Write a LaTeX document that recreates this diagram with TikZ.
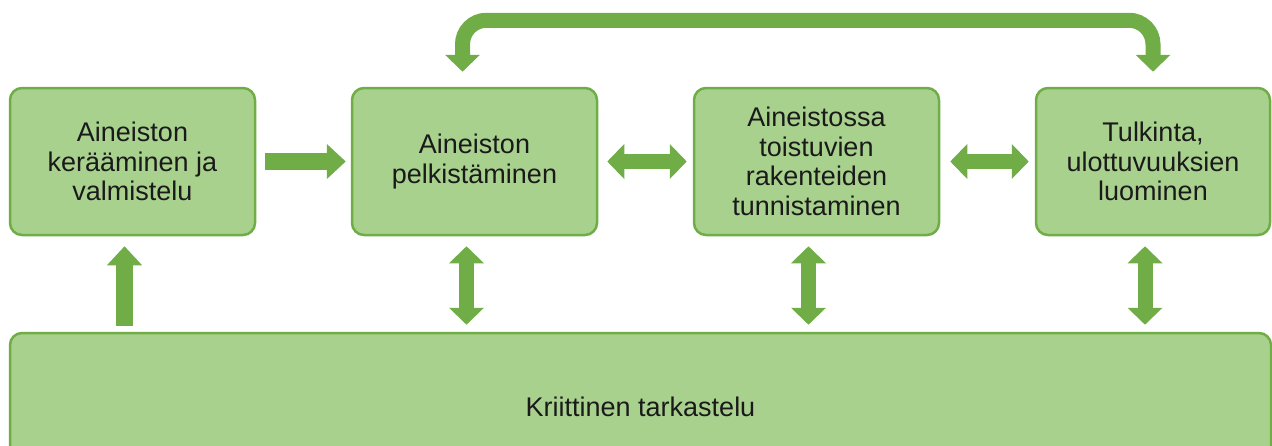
\documentclass[tikz,border=0pt]{standalone}
\usepackage{fontspec}
\setmainfont{Liberation Sans}
\usepackage{xcolor}
\usepackage{tikz}
\usetikzlibrary{arrows.meta,calc,positioning}
\definecolor{leaf}{HTML}{70AD47}
\definecolor{softleaf}{HTML}{A9D18E}
\definecolor{ink}{HTML}{1A1A1A}

\begin{document}
\begin{tikzpicture}[x=1pt,y=-1pt,node distance=94.5pt,
    stage/.style={rounded corners=12pt,draw=leaf,line width=2.5pt,fill=softleaf,
      minimum width=245pt,minimum height=147pt,align=center,text=ink,
      font=\fontsize{27}{29.5}\selectfont},
    fat/.style={leaf,line width=17pt,-{Triangle[width=34pt,length=19pt]}},
    fatboth/.style={leaf,line width=15pt,{Triangle[width=34pt,length=17pt]}-{Triangle[width=34pt,length=17pt]}}]
    \useasboundingbox (0,0) rectangle (1272,445);
    % steps of the analysis
    \node[stage] (collect) at (132.5,161.5) {Aineiston\\kerääminen ja\\valmistelu};
    \node[stage,right=of collect] (reduce) {Aineiston\\pelkistäminen};
    \node[stage,right=of reduce] (pattern) {Aineistossa\\toistuvien\\rakenteiden\\tunnistaminen};
    \node[stage,minimum width=234pt,right=of pattern] (interp) {Tulkinta,\\ulottuvuuksien\\luominen};
    \node[stage,minimum width=1261pt] (critic) at (640.5,406.5) {Kriittinen tarkastelu};
    % arrows between the steps
    \draw[fat,shorten <=9pt,shorten >=5pt] (collect) -- (reduce);
    \draw[fatboth,shorten <=9pt,shorten >=6pt] (reduce) -- (pattern);
    \draw[fatboth,shorten <=10pt,shorten >=6pt] (pattern) -- (interp);
    \draw[fat,shorten <=6pt,shorten >=10pt] ([xshift=-8pt]collect.south |- critic.north) -- ([xshift=-8pt]collect.south);
    \foreach \s in {reduce,pattern,interp}
      \draw[fatboth,shorten <=10pt,shorten >=7pt] ([xshift=-8pt]\s.south) -- ([xshift=-8pt]\s.south |- critic.north);
    % loop back over the top
    \draw[fatboth,rounded corners=24pt,shorten <=15pt,shorten >=15pt]
      ([xshift=-12pt]reduce.north) -- ++(0,-66.5) -| (interp.north);
\end{tikzpicture}
\end{document}
